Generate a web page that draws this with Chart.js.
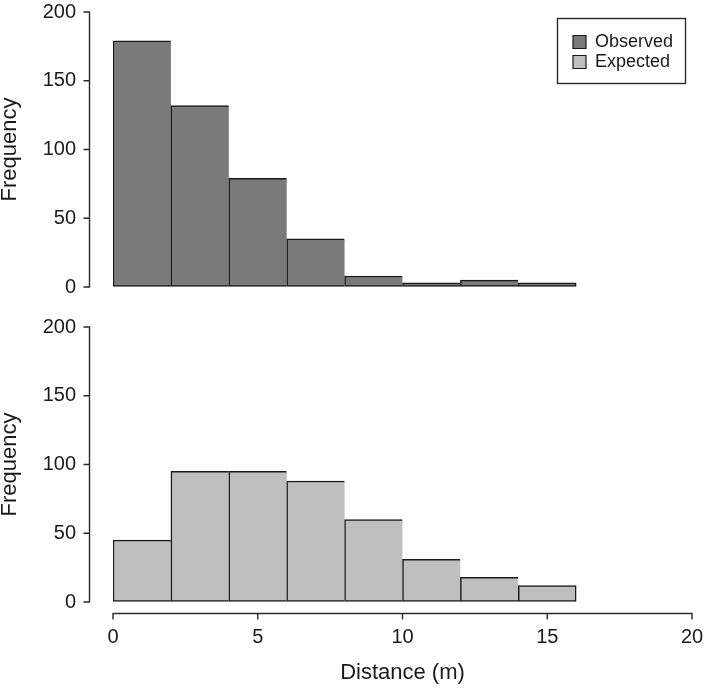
<!DOCTYPE html>
<html><head><meta charset="utf-8">
<script src="https://cdn.jsdelivr.net/npm/chart.js@4/dist/chart.umd.min.js"></script>
<style>
html,body{margin:0;padding:0;background:#fff;}
#wrap{position:relative;width:709px;height:688px;background:#fff;}
.pane{position:absolute;left:0;width:709px;}
canvas{display:block;}
</style></head><body>
<div id="wrap">
  <div class="pane" style="top:0;height:300px"><canvas id="c1" width="709" height="300"></canvas></div>
  <div class="pane" style="top:300px;height:388px"><canvas id="c2" width="709" height="388"></canvas></div>
</div>
<script>
// ---- data ----
const binEdges = [0, 2, 4, 6, 8, 10, 12, 14, 16];
const observed = [179, 132, 79, 35, 8, 3, 5, 3];
const expected = [45, 95, 95, 88, 60, 31, 18, 12];
const xTicks = [0, 5, 10, 15, 20];
const yTicks = [0, 50, 100, 150, 200];
const seriesNames = ['Observed', 'Expected'];
const xTitle = 'Distance (m)';
const yTitle = 'Frequency';

// ---- styles ----
const FONT = "'Liberation Sans', Arial, Helvetica, sans-serif";
const FS = 20;      // tick labels
const FT = 22;      // axis titles
const FL = 18;      // legend
const OBS_FILL = '#7a7a7a';
const EXP_FILL = '#bfbfbf';
const EDGE = '#1a1a1a';
const AXIS = '#2a2a2a';
const TEXT = '#1a1a1a';
const CLEAR = 'rgba(0,0,0,0)';

function toPoints(vals) {
  return vals.map((v, i) => ({ x: (binEdges[i] + binEdges[i + 1]) / 2, y: v }));
}

// R-style axes drawn from the chart's own scales
const rAxes = {
  id: 'rAxes',
  afterDraw(chart, args, opts) {
    const ctx = chart.ctx;
    const xs = chart.scales.x, ys = chart.scales.y;
    ctx.save();
    ctx.strokeStyle = AXIS;
    ctx.lineWidth = 1.4;
    const ax = Math.round(xs.getPixelForValue(xTicks[0]) - 24) + 0.5;
    const yTop = ys.getPixelForValue(yTicks[yTicks.length - 1]);
    const yBot = ys.getPixelForValue(yTicks[0]);
    ctx.beginPath();
    ctx.moveTo(ax, yTop); ctx.lineTo(ax, yBot);
    yTicks.forEach(v => { const p = ys.getPixelForValue(v); ctx.moveTo(ax + 0.7, p); ctx.lineTo(ax - 6, p); });
    ctx.stroke();
    if (opts.xAxis) {
      const ay = Math.round(ys.getPixelForValue(0) + 11) + 0.5;
      const x0 = xs.getPixelForValue(xTicks[0]);
      const x1 = xs.getPixelForValue(xTicks[xTicks.length - 1]);
      ctx.beginPath();
      ctx.moveTo(x0, ay); ctx.lineTo(x1, ay);
      xTicks.forEach(v => { const p = xs.getPixelForValue(v); ctx.moveTo(p, ay - 0.7); ctx.lineTo(p, ay + 6); });
      ctx.stroke();
    }
    if (opts.legendBox) {
      ctx.lineWidth = 1.4;
      ctx.strokeStyle = AXIS;
      ctx.strokeRect(557.5, 18.5, 128, 65);
    }
    ctx.restore();
  }
};

function makeChart(canvasId, values, fill, withX, withLegend, padTop) {
  const n = values.length;
  return new Chart(document.getElementById(canvasId), {
    type: 'bar',
    data: {
      datasets: [{
        label: withLegend ? seriesNames[0] : seriesNames[1],
        data: toPoints(values),
        backgroundColor: fill,
        borderColor: EDGE,
        borderWidth: ctx => ({ left: 1.5, top: 1.5, bottom: 1.5, right: ctx.dataIndex === n - 1 ? 1.5 : 0 }),
        borderSkipped: false,
        barPercentage: 1,
        categoryPercentage: 1
      }]
    },
    options: {
      responsive: false,
      animation: false,
      devicePixelRatio: 1,
      layout: { padding: { left: 0, right: 17, top: padTop, bottom: withX ? 0 : 13 } },
      plugins: {
        tooltip: { enabled: false },
        legend: {
          display: withLegend,
          position: 'chartArea',
          align: 'start',
          labels: {
            boxWidth: 13, boxHeight: 13,
            padding: 2,
            color: TEXT,
            font: { family: FONT, size: FL, lineHeight: 1 },
            generateLabels: () => [
              { text: seriesNames[0], fillStyle: OBS_FILL, strokeStyle: EDGE, lineWidth: 1.2, fontColor: TEXT },
              { text: seriesNames[1], fillStyle: EXP_FILL, strokeStyle: EDGE, lineWidth: 1.2, fontColor: TEXT }
            ]
          }
        },
        rAxes: { xAxis: withX, legendBox: withLegend }
      },
      scales: {
        x: {
          type: 'linear',
          min: xTicks[0], max: xTicks[xTicks.length - 1],
          offset: false,
          display: withX,
          grid: { display: true, drawOnChartArea: false, drawTicks: true, tickLength: 23, tickColor: CLEAR, color: CLEAR, offset: false },
          border: { display: false },
          afterBuildTicks: s => { s.ticks = xTicks.map(v => ({ value: v })); },
          afterFit: s => { if (withX) s.height = 86; },
          ticks: { padding: 0, color: TEXT, font: { family: FONT, size: FS }, maxRotation: 0, autoSkip: false },
          title: { display: true, text: xTitle, color: TEXT, font: { family: FONT, size: FT }, padding: { top: 0, bottom: 2 } }
        },
        y: {
          min: yTicks[0], max: yTicks[yTicks.length - 1],
          grid: { display: true, drawOnChartArea: false, drawTicks: true, tickLength: 37, tickColor: CLEAR, color: CLEAR },
          border: { display: false },
          afterBuildTicks: s => { s.ticks = yTicks.map(v => ({ value: v })); },
          afterFit: s => { s.width = 113; },
          ticks: { padding: 0, color: TEXT, font: { family: FONT, size: FS } },
          title: { display: true, text: yTitle, color: TEXT, font: { family: FONT, size: FT, lineHeight: 0.9 }, padding: { top: 0, bottom: 0 } }
        }
      }
    },
    plugins: [rAxes, {
      id: 'legendPlace',
      afterLayout(chart) {
        const lg = chart.legend;
        if (!withLegend || !lg) return;
        const w = 112, h = 60;
        lg.left = 571; lg.top = 31; lg.right = lg.left + w; lg.bottom = lg.top + h;
        lg.width = w; lg.height = h;
      }
    }]
  });
}

makeChart('c1', observed, OBS_FILL, false, true, 12);
makeChart('c2', expected, EXP_FILL, true, false, 27);
</script>
</body></html>
